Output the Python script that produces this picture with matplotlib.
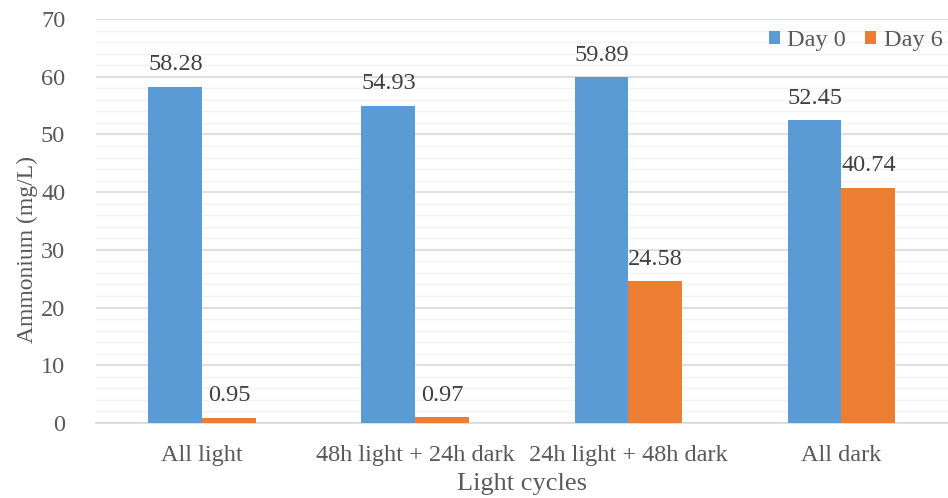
import matplotlib
matplotlib.use('Agg')
import matplotlib.pyplot as plt
import numpy as np

plt.rcParams['font.family'] = ['Liberation Serif', 'DejaVu Serif']

# Ammonium concentration per light cycle
cycles = ["All light", "48h light + 24h dark", "24h light + 48h dark", "All dark"]
day0 = [58.28, 54.93, 59.89, 52.45]
day6 = [0.95, 0.97, 24.58, 40.74]

c_day0 = "#5B9BD5"
c_day6 = "#ED7D31"
txt = "#595959"

fig = plt.figure(figsize=(9.48, 4.98), dpi=100)
ax = fig.add_axes([0.101, 0.1506, 0.899, 0.8112])

x = np.arange(len(cycles))
w = 0.253
b0 = ax.bar(x - w/2, day0, w, color=c_day0, label="Day 0", zorder=3)
b6 = ax.bar(x + w/2, day6, w, color=c_day6, label="Day 6", zorder=3)

for bars, vals in ((b0, day0), (b6, day6)):
    for rect, v in zip(bars, vals):
        ax.text(rect.get_x() + rect.get_width()/2, v + 2.0, "%.2f" % v,
                ha="center", va="bottom", fontsize=17.5, color="#404040")

ax.set_xlim(-0.5, len(cycles) - 0.5)
ax.set_ylim(0, 70)
ax.set_yticks(np.arange(0, 71, 10))
ax.set_yticks(np.arange(0, 71, 2), minor=True)
ax.grid(axis="y", which="major", color="#D9D9D9", linewidth=1.2, zorder=0)
ax.grid(axis="y", which="minor", color="#F2F2F2", linewidth=1.0, zorder=0)
ax.set_xticks(x)
ax.set_xticklabels(cycles)
ax.tick_params(axis="both", which="both", length=0, labelsize=17.5, labelcolor=txt)
ax.tick_params(axis="y", pad=22)
ax.tick_params(axis="x", pad=16)
for s in ("top", "right", "left"):
    ax.spines[s].set_visible(False)
ax.spines["bottom"].set_color("#D9D9D9")
ax.spines["bottom"].set_linewidth(1.2)

ax.set_ylabel("Ammonium (mg/L)", fontsize=17, color=txt)
ax.yaxis.set_label_coords(-0.068, 0.43)
ax.set_xlabel("Light cycles", fontsize=19, color=txt, labelpad=5)

leg = ax.legend(loc="upper right", bbox_to_anchor=(1.005, 0.997), ncol=2, frameon=False,
                fontsize=17.5, handlelength=0.45, handleheight=0.45, handletextpad=0.3,
                columnspacing=0.8, labelcolor=txt, borderaxespad=0.0)

fig.savefig("out.png", dpi=100)
